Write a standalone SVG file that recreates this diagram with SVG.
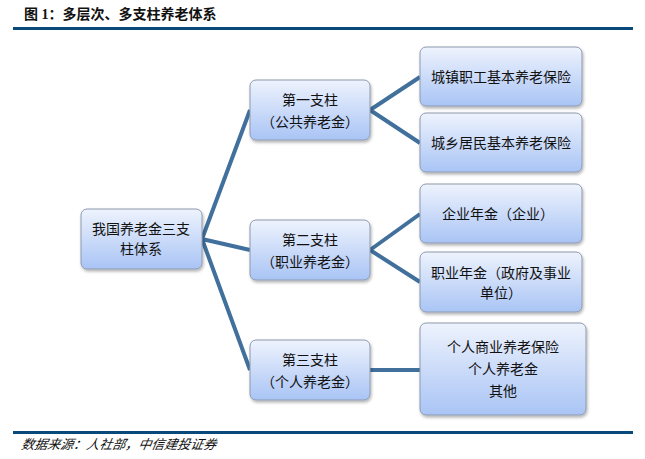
<svg xmlns="http://www.w3.org/2000/svg" width="645" height="459" viewBox="0 0 645 459">
<defs>
<linearGradient id="g" x1="0" y1="0" x2="0" y2="1"><stop offset="0" stop-color="#eef3fd"/><stop offset="1" stop-color="#a9c4f5"/></linearGradient>
<filter id="sh" x="-10%" y="-10%" width="130%" height="140%"><feDropShadow dx="1" dy="2" stdDeviation="1.5" flood-color="#000" flood-opacity="0.3"/></filter>
<style>
.b{fill:url(#g);stroke:#8c9aae;stroke-width:1;filter:url(#sh)}
.t{font-family:"Noto Sans CJK SC","Liberation Sans",sans-serif;font-size:14px;fill:#111;text-anchor:middle}
.c{stroke:#41709c;stroke-width:4;fill:none}
</style>
</defs>
<rect width="645" height="459" fill="#fff"/>
<text x="24" y="19" font-family="Liberation Serif,'Noto Sans CJK SC',serif" font-weight="bold" font-size="14" fill="#111">图 1：多层次、多支柱养老体系</text>
<rect x="13" y="27" width="620" height="3" fill="#0a4a7a"/>
<rect x="13" y="431" width="620" height="3" fill="#0a4a7a"/>
<text x="21" y="449" font-family="'Noto Sans CJK SC',sans-serif" font-style="italic" font-size="13" fill="#111" transform="skewX(-10) translate(79,0)">数据来源：人社部，中信建投证券</text>
<g id="connectors">
<path class="c" d="M202,239 L250,110 M202,239 L250,250 M202,239 L250,370"/>
<path class="c" d="M370,110 L420,77 M370,110 L420,143"/>
<path class="c" d="M370,250 L420,214 M370,250 L420,282"/>
<path class="c" d="M370,370 L420,370"/>
</g>
<g id="root"><rect class="b" x="81" y="209" width="121" height="60" rx="6"/><text class="t" x="141" y="234">我国养老金三支</text><text class="t" x="141" y="254">柱体系</text></g>
<g id="p1"><rect class="b" x="250" y="80" width="120" height="60" rx="6"/><text class="t" x="310" y="105">第一支柱</text><text class="t" x="310" y="127">（公共养老金）</text></g>
<g id="p2"><rect class="b" x="250" y="220" width="120" height="60" rx="6"/><text class="t" x="310" y="245">第二支柱</text><text class="t" x="310" y="267">（职业养老金）</text></g>
<g id="p3"><rect class="b" x="250" y="340" width="120" height="60" rx="6"/><text class="t" x="310" y="365">第三支柱</text><text class="t" x="310" y="387">（个人养老金）</text></g>
<g id="r1"><rect class="b" x="420" y="47" width="162" height="59" rx="6"/><text class="t" x="501" y="82">城镇职工基本养老保险</text></g>
<g id="r2"><rect class="b" x="420" y="113" width="162" height="59" rx="6"/><text class="t" x="501" y="148">城乡居民基本养老保险</text></g>
<g id="r3"><rect class="b" x="420" y="184" width="162" height="59" rx="6"/><text class="t" x="498" y="219">企业年金（企业）</text></g>
<g id="r4"><rect class="b" x="420" y="252" width="162" height="60" rx="6"/><text class="t" x="501" y="278">职业年金（政府及事业</text><text class="t" x="501" y="298">单位）</text></g>
<g id="r5"><rect class="b" x="420" y="323" width="166" height="92" rx="6"/><text class="t" x="503" y="352">个人商业养老保险</text><text class="t" x="503" y="374">个人养老金</text><text class="t" x="503" y="396">其他</text></g>
</svg>
